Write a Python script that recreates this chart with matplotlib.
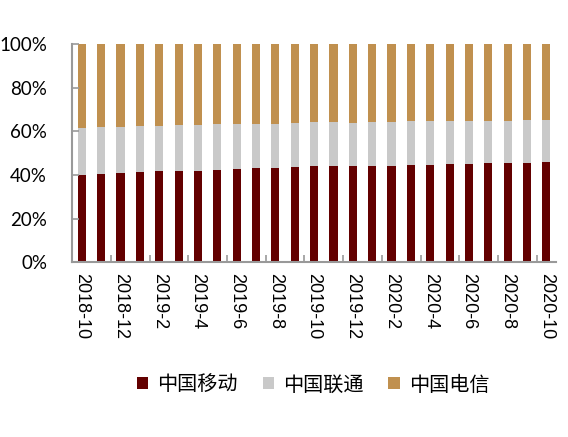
import numpy as np
import matplotlib
matplotlib.use('Agg')
from matplotlib import pyplot as plt
from matplotlib.ticker import PercentFormatter

# months 2018-10 .. 2020-10
months = ['2018-10', '2018-11', '2018-12',
          '2019-1', '2019-2', '2019-3', '2019-4', '2019-5', '2019-6',
          '2019-7', '2019-8', '2019-9', '2019-10', '2019-11', '2019-12',
          '2020-1', '2020-2', '2020-3', '2020-4', '2020-5', '2020-6',
          '2020-7', '2020-8', '2020-9', '2020-10']
series_names = ['中国移动', '中国联通', '中国电信']
mobile = [40.0, 40.4, 40.8, 41.4, 41.6, 41.8, 42.0, 42.3, 42.6, 43.0, 43.4, 43.7, 44.0,
          44.0, 44.0, 44.3, 44.3, 44.6, 44.8, 44.9, 45.1, 45.3, 45.4, 45.7, 45.9]
unicom = [21.7, 21.4, 21.0, 20.9, 21.0, 21.0, 21.0, 20.9, 20.7, 20.5, 20.2, 20.1, 20.1,
          20.1, 20.0, 20.0, 20.1, 20.0, 20.0, 19.9, 19.7, 19.6, 19.5, 19.4, 19.4]
telecom = [38.3, 38.2, 38.2, 37.7, 37.4, 37.2, 37.0, 36.8, 36.7, 36.5, 36.4, 36.2, 35.9,
           35.9, 36.0, 35.7, 35.6, 35.4, 35.2, 35.2, 35.2, 35.1, 35.1, 34.9, 34.7]

colors = ['#630000', '#c9c9c9', '#c0904f']
axcol = '#999999'

fig = plt.figure(figsize=(5.68, 4.37), dpi=100)
ax = fig.add_axes([0.127, 0.400, 0.852, 0.499])

x = np.arange(len(months))
bottom = np.zeros(len(months))
for name, vals, c in zip(series_names, [mobile, unicom, telecom], colors):
    ax.bar(x, vals, width=0.42, bottom=bottom, color=c, label=name)
    bottom += np.array(vals)

ax.set_xlim(-0.5, len(months) - 0.5)
ax.set_ylim(0, 100)
ax.set_yticks(np.arange(0, 101, 20))
ax.yaxis.set_major_formatter(PercentFormatter(decimals=0))

ax.set_xticks(x[::2])
ax.set_xticklabels(months[::2], rotation=270, fontsize=13, family='Liberation Sans')
ax.set_xticks(np.arange(1.5, len(months) - 1, 2), minor=True)
ax.tick_params(axis='x', which='major', length=0, pad=8)
ax.tick_params(axis='x', which='minor', direction='in', length=5, color=axcol, width=1.2)
ax.tick_params(axis='y', direction='in', length=5, color=axcol, width=1.2, labelsize=13.5, pad=18)
for lab in ax.get_yticklabels():
    lab.set_family('Lato')

for s in ['top', 'right']:
    ax.spines[s].set_visible(False)
for s in ['left', 'bottom']:
    ax.spines[s].set_color(axcol)
    ax.spines[s].set_linewidth(1.5)

fig.legend(loc='center', bbox_to_anchor=(0.551, 0.119), ncol=3, frameon=False,
           prop={'family': ['Noto Sans CJK SC', 'DejaVu Sans'], 'size': 14.5},
           handlelength=0.55, handleheight=0.55, handletextpad=0.45, columnspacing=1.25)

fig.savefig('out.png', dpi=100)
